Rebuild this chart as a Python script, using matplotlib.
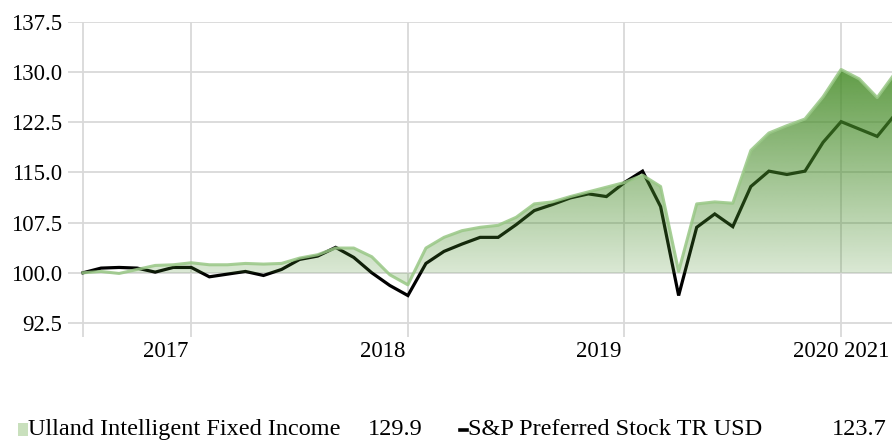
import numpy as np
import matplotlib
matplotlib.use("Agg")
import matplotlib.pyplot as plt
from matplotlib.patches import Rectangle
from matplotlib.lines import Line2D
from matplotlib.transforms import ScaledTranslation

plt.rcParams["font.family"] = ["Liberation Serif", "DejaVu Serif"]

FUND_NAME = "Ulland Intelligent Fixed Income"
BENCH_NAME = "S&P Preferred Stock TR USD"

# monthly growth of 100
fund = [100.0, 100.2, 99.9, 100.5, 101.1, 101.2, 101.5, 101.2, 101.2, 101.4,
        101.3, 101.4, 102.2, 102.7, 103.7, 103.7, 102.4, 99.7, 98.2, 103.7,
        105.3, 106.3, 106.8, 107.1, 108.3, 110.3, 110.6, 111.4, 112.1, 112.8,
        113.5, 114.6, 112.9, 100.2, 110.3, 110.6, 110.4, 118.3, 120.9, 122.0,
        123.0, 126.3, 130.4, 129.0, 126.2, 129.9]
bench = [100.0, 100.7, 100.8, 100.7, 100.1, 100.8, 100.8, 99.4, 99.8, 100.2,
         99.6, 100.5, 102.0, 102.5, 103.8, 102.3, 100.0, 98.1, 96.6, 101.4,
         103.2, 104.3, 105.3, 105.3, 107.2, 109.3, 110.2, 111.2, 111.8, 111.4,
         113.5, 115.2, 109.9, 96.6, 106.8, 108.8, 106.9, 112.9, 115.2, 114.7,
         115.2, 119.5, 122.6, 121.5, 120.4, 123.7]

year_ticks = [0, 6, 18, 30, 42]
year_labels = ["", "2017", "2018", "2019", "2020"]
last_label = "2021"
y_ticks = [92.5, 100.0, 107.5, 115.0, 122.5, 130.0, 137.5]

FS = 16.4       # tick labels
FS_LEG = 17.5   # legend row
GRID = "#d9d9d9"

x = np.arange(len(fund))
fig = plt.figure(figsize=(8.92, 4.40), dpi=100)
ax = fig.add_axes([68 / 892, 103 / 440, 824 / 892, 315 / 440])

for s in ax.spines.values():
    s.set_visible(False)

ax.set_yticks(y_ticks)
ax.set_yticklabels([f"{v:.1f}" for v in y_ticks])
ax.set_xticks(year_ticks)
ax.set_xticklabels(year_labels)
ax.set_xticks([44.82], [last_label], minor=True)
ax.tick_params(axis="both", which="both", length=0, labelsize=FS, colors="black")
ax.tick_params(axis="y", pad=4.0)
ax.tick_params(axis="x", which="both", pad=3)
off = ScaledTranslation(-3 / 100, 0, fig.dpi_scale_trans)
for lab in ax.get_xticklabels() + ax.get_xticklabels(minor=True):
    lab.set_ha("right")
    lab.set_transform(lab.get_transform() + off)
ax.grid(True, which="major", color=GRID, lw=1.3, zorder=0)
ax.set_axisbelow(True)

# benchmark line sits under the fund fill
ax.plot(x, bench, color="black", lw=2.3, zorder=2, solid_joinstyle="miter")

# gradient fill for the fund
poly = ax.fill_between(x, fund, 100, facecolor="none", edgecolor="none", zorder=3)
yy = np.linspace(94, 132, 400)
t = np.clip((yy - 100) / 31.0, 0, 1)
rgba = np.zeros((len(yy), 2, 4))
rgba[..., 0] = 70 / 255
rgba[..., 1] = 140 / 255
rgba[..., 2] = 40 / 255
rgba[..., 3] = (0.2 + 0.67 * t)[:, None]
im = ax.imshow(rgba, extent=[x[0], x[-1], 94, 132], origin="lower",
               aspect="auto", zorder=3, interpolation="bilinear")
im.set_clip_path(poly.get_paths()[0], transform=ax.transData)
ax.plot(x, fund, color="#98c785", lw=2.2, alpha=0.85, zorder=4)

ax.set_xlim(-0.83, 44.82)
ax.set_ylim(90.4, 137.5)

# legend row along the bottom
fig.patches.append(Rectangle((18 / 892, 4 / 440), 10 / 892, 13 / 440,
                             transform=fig.transFigure, facecolor="#c9e0bd",
                             edgecolor="none"))
fig.lines.append(Line2D([460 / 892, 467 / 892], [10 / 440, 10 / 440],
                        transform=fig.transFigure, color="black", lw=2.6))
ty = 5 / 440
fig.text(28 / 892, ty, FUND_NAME, fontsize=FS_LEG, va="baseline", ha="left")
fig.text(423 / 892, ty, f"{fund[-1]:.1f}", fontsize=FS_LEG, va="baseline", ha="right")
fig.text(468 / 892, ty, BENCH_NAME, fontsize=FS_LEG, va="baseline", ha="left")
fig.text(887 / 892, ty, f"{bench[-1]:.1f}", fontsize=FS_LEG, va="baseline", ha="right")

fig.savefig("out.png", dpi=100)
